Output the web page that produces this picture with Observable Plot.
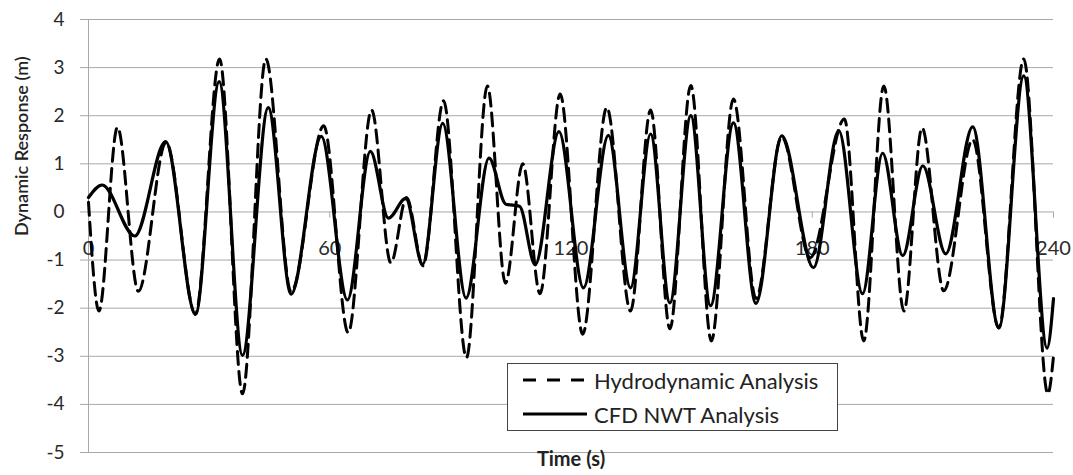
<!DOCTYPE html>
<html>
<head>
<meta charset="utf-8">
<script src="https://cdn.jsdelivr.net/npm/d3@7"></script>
<script src="https://cdn.jsdelivr.net/npm/@observablehq/plot@0.6"></script>
<style>
  html, body { margin: 0; padding: 0; background: #fff; }
  #wrap { position: relative; width: 1073px; height: 475px; font-family: Lato, "Open Sans", sans-serif; }
  #legend { position: absolute; left: 507px; top: 363px; width: 331px; height: 68px; box-sizing: border-box;
            border: 1px solid #444; background: #fff; font-family: Lato, sans-serif; font-size: 22px; color: #222; }
  .row { position: absolute; left: 14px; height: 26px; display: flex; align-items: center; white-space: nowrap; }
  .row svg { margin-right: 6px; }
</style>
</head>
<body>
<div id="wrap"></div>
<script>
// Hydrodynamic Analysis (dashed) – time (s) and response (m), read at turning points
const hydroT = [0, 2.6, 7.2, 12.4, 19.3, 26.6, 32.6, 38.3, 44.1, 50.4, 58.5, 64.6, 70.4, 75.2, 79.1, 83.2, 88.3, 94.0, 99.2, 103.7, 108.0, 112.3, 117.3, 122.9, 128.9, 134.8, 139.8, 144.6, 149.8, 154.9, 160.4, 166.0, 172.4, 179.5, 188.0, 192.8, 197.8, 202.8, 207.3, 212.7, 219.9, 226.4, 232.6, 238.6, 240];
const hydroV = [0.2, -2.06, 1.76, -1.65, 1.45, -2.12, 3.18, -3.78, 3.18, -1.66, 1.79, -2.51, 2.12, -1.06, 0.30, -1.12, 2.31, -3.03, 2.62, -1.48, 1.00, -1.70, 2.45, -2.54, 2.17, -2.06, 2.12, -2.43, 2.63, -2.68, 2.35, -1.80, 1.56, -0.95, 1.93, -2.68, 2.62, -2.06, 1.75, -1.64, 1.50, -2.41, 3.18, -3.78, -3.0];

// CFD NWT Analysis (solid)
const cfdT = [0, 3.4, 11.5, 19.2, 26.6, 32.5, 38.3, 44.7, 50.4, 57.9, 64.4, 70.1, 74.6, 78.9, 83.1, 88.1, 93.9, 99.6, 103.8, 107.2, 111.1, 117.0, 123.1, 129.3, 134.8, 139.8, 144.6, 149.8, 154.7, 160.4, 166.0, 172.4, 180.3, 186.6, 192.5, 197.5, 202.5, 207.5, 213.2, 219.9, 226.4, 232.6, 238.4, 240];
const cfdV = [0.30, 0.56, -0.50, 1.46, -2.13, 2.71, -2.98, 2.17, -1.71, 1.57, -1.83, 1.26, -0.13, 0.28, -1.09, 1.84, -1.79, 1.12, 0.16, 0.12, -1.10, 1.67, -1.58, 1.59, -1.58, 1.62, -1.89, 2.00, -1.95, 1.85, -1.90, 1.58, -1.16, 1.69, -1.70, 1.22, -0.91, 0.96, -0.87, 1.77, -2.41, 2.83, -2.83, -1.8];

const xTicks = [0, 60, 120, 180, 240];
const yTicks = [-5, -4, -3, -2, -1, 0, 1, 2, 3, 4];
const seriesNames = ["Hydrodynamic Analysis", "CFD NWT Analysis"];
const xTitle = "Time (s)";
const yTitle = "Dynamic Response (m)";

const hydro = hydroT.map((t, i) => ({t, v: hydroV[i]}));
const cfd = cfdT.map((t, i) => ({t, v: cfdV[i]}));

const grid = "#a8a8a8";

const chart = Plot.plot({
  width: 1073,
  height: 475,
  marginLeft: 88,
  marginRight: 20,
  marginTop: 19,
  marginBottom: 23,
  style: {fontFamily: "Lato, 'Open Sans', sans-serif", background: "#fff", color: "#222"},
  x: {domain: [0, 240]},
  y: {domain: [-5, 4]},
  marks: [
    Plot.ruleY(yTicks, {stroke: grid, strokeWidth: 1}),
    Plot.ruleX([0], {stroke: grid, strokeWidth: 1}),
    Plot.axisY({ticks: yTicks, tickSize: 8, tickPadding: 16, fontSize: 19, stroke: grid, fill: "#2a2a2a",
                tickFormat: d => String(d), label: null}),
    Plot.axisX({ticks: [], label: null, tickSize: 0}),
    Plot.ruleX(xTicks, {y1: 0, y2: -0.13, stroke: grid, strokeWidth: 1}),
    Plot.text(xTicks, {x: d => d, y: 0, dy: 37, text: d => String(d), fontSize: 20, fill: "#2a2a2a"}),
    Plot.line(hydro, {x: "t", y: "v", curve: "monotone-x", stroke: "#000", strokeWidth: 3, strokeDasharray: "13,7"}),
    Plot.line(cfd, {x: "t", y: "v", curve: "monotone-x", stroke: "#000", strokeWidth: 3.2}),
    Plot.text([yTitle], {frameAnchor: "left", rotate: -90, dx: -66, text: d => d, fontSize: 18, fontWeight: 600, fill: "#222"}),
    Plot.text([xTitle], {frameAnchor: "bottom", dy: 13, text: d => d, fontSize: 20, fontWeight: "bold", fill: "#222"})
  ]
});

const wrap = document.getElementById("wrap");
wrap.appendChild(chart);

const legend = document.createElement("div");
legend.id = "legend";
legend.innerHTML =
  `<div class="row" style="top:3px"><svg width="66" height="10"><line x1="1" y1="5" x2="65" y2="5" stroke="#000" stroke-width="3" stroke-dasharray="13,11"/></svg><span>${seriesNames[0]}</span></div>` +
  `<div class="row" style="top:37px"><svg width="66" height="10"><line x1="1" y1="5" x2="65" y2="5" stroke="#000" stroke-width="3"/></svg><span>${seriesNames[1]}</span></div>`;
wrap.appendChild(legend);
</script>
</body>
</html>
